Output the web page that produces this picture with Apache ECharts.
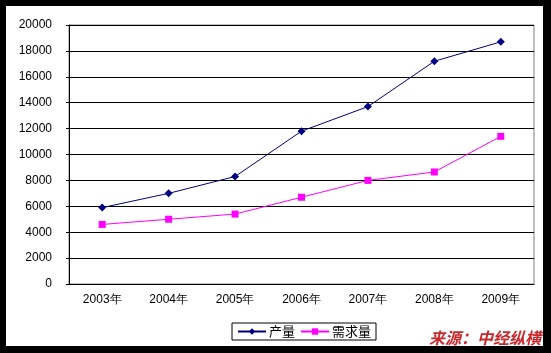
<!DOCTYPE html>
<html>
<head>
    <meta charset="utf-8">
    <title>ECharts</title>
    <script src="https://cdn.jsdelivr.net/npm/echarts@6/dist/echarts.min.js"></script>
    <style>
        html, body { margin: 0; padding: 0; background: #000; }
    </style>
</head>
<body>
    <div id="main" style="width: 551px;height:353px;"></div>
    <script type="text/javascript">
        var years = ['2003年', '2004年', '2005年', '2006年', '2007年', '2008年', '2009年'];
        var output = [5900, 7000, 8300, 11800, 13700, 17200, 18700];   // 产量
        var demand = [4600, 5000, 5400, 6700, 8000, 8650, 11400];      // 需求量
        var sourceText = '来源：中经纵横';

        var myChart = echarts.init(document.getElementById('main'));
        var labelFont = { color: '#000', fontSize: 12, fontFamily: 'Liberation Sans, Arial, sans-serif' };

        var option = {
            backgroundColor: '#000',
            animation: false,
            graphic: [
                { type: 'rect', z: -10, shape: { x: 6, y: 6, width: 537, height: 340 }, style: { fill: '#fff' } },
                { type: 'rect', z: -5, shape: { x: 69, y: 25, width: 465, height: 259 }, style: { fill: 'none', stroke: '#808080', lineWidth: 1 } },
                {
                    type: 'text', right: 8, top: 330, z: 10,
                    style: {
                        text: sourceText, fill: '#c8282c', fontSize: 16, fontWeight: 'bold', fontStyle: 'italic',
                        fontFamily: 'Noto Sans CJK SC, sans-serif', backgroundColor: '#fff', padding: [0, 2, 0, 2]
                    }
                }
            ],
            legend: {
                left: 232, top: 323,
                data: ['产量', '需求量'],
                borderColor: '#000', borderWidth: 1,
                padding: [2, 5, 2, 5],
                itemWidth: 28, itemHeight: 8, itemGap: 5,
                backgroundColor: '#fff',
                textStyle: { color: '#000', fontSize: 13, fontFamily: 'Noto Sans CJK SC, sans-serif', padding: [0, 0, 0, -2] }
            },
            grid: { left: 69, top: 25, right: 17, bottom: 69 },
            xAxis: {
                type: 'category',
                data: years,
                boundaryGap: true,
                axisLine: { lineStyle: { color: '#000', width: 1 } },
                axisTick: { inside: true, length: 4, lineStyle: { color: '#000' } },
                axisLabel: Object.assign({ margin: 10 }, labelFont)
            },
            yAxis: {
                type: 'value',
                min: 0, max: 20000, interval: 2000,
                axisLine: { show: true, lineStyle: { color: '#000', width: 1 } },
                axisTick: { show: true, length: 3, lineStyle: { color: '#000' } },
                splitLine: { lineStyle: { color: '#000', width: 1 } },
                axisLabel: Object.assign({ margin: 17, formatter: function (v) { return String(v); } }, labelFont)
            },
            series: [{
                name: '产量',
                type: 'line',
                data: output,
                symbol: 'diamond',
                symbolSize: 8,
                itemStyle: { color: '#000080' },
                lineStyle: { color: '#000080', width: 1 }
            }, {
                name: '需求量',
                type: 'line',
                data: demand,
                symbol: 'rect',
                symbolSize: 7,
                itemStyle: { color: '#ff00ff' },
                lineStyle: { color: '#ff00ff', width: 1 }
            }]
        };

        myChart.setOption(option);
    </script>
</body>
</html>
